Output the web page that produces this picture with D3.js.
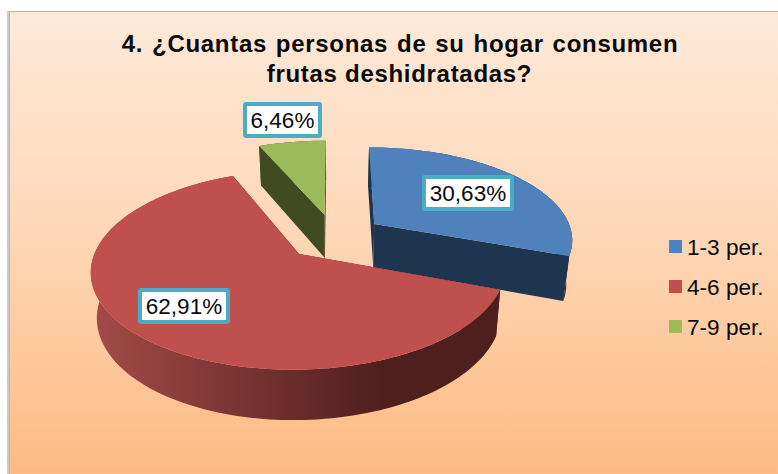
<!DOCTYPE html>
<html>
<head>
<meta charset="utf-8">
<script src="https://cdn.jsdelivr.net/npm/d3@7"></script>
<style>
  html, body { margin: 0; padding: 0; background: #fff; overflow: hidden; }
  text { font-family: "Liberation Sans", Arial, sans-serif; fill: #0a0a0a; }
  .title { font-weight: bold; font-size: 24px; letter-spacing: 0.7px; text-anchor: middle; }
  .value { font-size: 22.5px; text-anchor: middle; }
  .legend { font-size: 22.6px; }
</style>
</head>
<body>
<div id="chart"></div>
<script>
// the data
const categories = ["1-3 per.", "4-6 per.", "7-9 per."];
const values = [30.63, 62.91, 6.46];
const valueLabels = ["30,63%", "62,91%", "6,46%"];
const titleLines = ["4. ¿Cuantas personas de su hogar consumen", "frutas deshidratadas?"];

const width = 778, height = 474;

// colours, same order as categories
const topColor = d3.scaleOrdinal().domain(categories).range(["#4f81bd", "#c0504d", "#9bbb59"]);
const sideColor = d3.scaleOrdinal().domain(categories).range(["#1f344f", "#4f1f1e", "#404b22"]);

// label box centres, same order as categories
const labelCentres = [[468, 193], [184, 306], [282.5, 120]];

// perspective settings for the pie
const cx = 334.3, cy = 236.8;
const scaleX = 199, scaleY = 92, persp = 0.154;
const explode = 0.25, wallHeight = 44, wallShrink = 0.975;

const svg = d3.select("#chart").append("svg")
    .attr("width", width)
    .attr("height", height)
    .style("display", "block");

const defs = svg.append("defs");

const bg = defs.append("linearGradient")
    .attr("id", "bg").attr("x1", 0).attr("y1", 0).attr("x2", 0).attr("y2", 1);
bg.append("stop").attr("offset", "0%").attr("stop-color", "#fde9d9");
bg.append("stop").attr("offset", "45%").attr("stop-color", "#fdd8b8");
bg.append("stop").attr("offset", "100%").attr("stop-color", "#fdb981");

const wall = defs.append("linearGradient")
    .attr("id", "redWall").attr("gradientUnits", "userSpaceOnUse")
    .attr("x1", 90).attr("y1", 0).attr("x2", 380).attr("y2", 0);
wall.append("stop").attr("offset", "0%").attr("stop-color", "#a54b48");
wall.append("stop").attr("offset", "100%").attr("stop-color", "#4f1f1e");

// chart area with its thin shadow and orange border
svg.append("rect")
    .attr("x", 7).attr("y", 11).attr("width", 2).attr("height", height)
    .attr("fill", "#c9c9c9");
svg.append("rect")
    .attr("x", 9.5).attr("y", 11.5).attr("width", width).attr("height", height)
    .attr("fill", "url(#bg)")
    .attr("stroke", "#f9a468");

// title
svg.selectAll(".title")
    .data(titleLines)
    .enter().append("text")
    .attr("class", "title")
    .attr("x", (d, i) => i === 0 ? 400 : 399.5)
    .attr("y", (d, i) => 52 + i * 30)
    .style("word-spacing", (d, i) => i === 0 ? "1.5px" : "0px")
    .text(d => d);

// angle 0 is the back of the pie, going clockwise
const pie = d3.pie().sort(null).value(d => d.value);
const slices = pie(categories.map((c, i) => ({name: c, value: values[i], label: valueLabels[i]})));

// disc coordinates to screen, lower=true gives the bottom face
function project(wx, wy, lower) {
    const w = 1 - persp * wy;
    const sx = scaleX * wx / w, sy = scaleY * wy / w;
    if (!lower) return [cx + sx, cy + sy];
    return [cx + sx * wallShrink, cy + sy * wallShrink + wallHeight / w];
}

function centre(s) {
    const mid = (s.startAngle + s.endAngle) / 2;
    return [explode * Math.sin(mid), -explode * Math.cos(mid)];
}

function rim(s, a, lower) {
    const c = centre(s);
    return project(c[0] + Math.sin(a), c[1] - Math.cos(a), lower);
}

function rimPoints(s, lower) {
    const steps = Math.ceil((s.endAngle - s.startAngle) * 40);
    return d3.range(steps + 1).map(i =>
        rim(s, s.startAngle + (s.endAngle - s.startAngle) * i / steps, lower));
}

const line = d3.line();
const drawOrder = [slices[2], slices[0], slices[1]];

drawOrder.forEach(function(s) {
    const name = s.data.name;
    const c = centre(s);
    const apex = project(c[0], c[1], false);
    const apexLow = project(c[0], c[1], true);
    const g = svg.append("g");

    // the two cut faces
    [s.startAngle, s.endAngle].forEach(function(a) {
        g.append("path")
            .attr("d", line([apex, rim(s, a, false), rim(s, a, true), apexLow]) + "Z")
            .attr("fill", sideColor(name));
    });

    // outer wall
    g.append("path")
        .attr("d", line(rimPoints(s, false).concat(rimPoints(s, true).reverse())) + "Z")
        .attr("fill", name === categories[1] ? "url(#redWall)" : sideColor(name));

    // top
    g.append("path")
        .attr("d", line([apex].concat(rimPoints(s, false))) + "Z")
        .attr("fill", topColor(name));
});

// value labels
const labels = svg.selectAll(".label")
    .data(slices)
    .enter().append("g")
    .attr("class", "label")
    .attr("transform", (d, i) => "translate(" + labelCentres[i][0] + "," + labelCentres[i][1] + ")");

labels.append("rect")
    .attr("x", d => d.data.label.length === 5 ? -37.5 : -44)
    .attr("y", -16)
    .attr("width", d => d.data.label.length === 5 ? 75 : 88)
    .attr("height", 32)
    .attr("rx", 1)
    .attr("fill", "#fff")
    .attr("stroke", "#4bacc6")
    .attr("stroke-width", 4);

labels.append("text")
    .attr("class", "value")
    .attr("y", 7.5)
    .text(d => d.data.label);

// legend
const legend = svg.selectAll(".legendItem")
    .data(categories)
    .enter().append("g")
    .attr("class", "legendItem")
    .attr("transform", (d, i) => "translate(669," + (240 + i * 40) + ")");

legend.append("rect")
    .attr("width", 13)
    .attr("height", 13)
    .attr("fill", d => topColor(d));

legend.append("text")
    .attr("class", "legend")
    .attr("x", 18)
    .attr("y", 14.5)
    .text(d => d);
</script>
</body>
</html>
